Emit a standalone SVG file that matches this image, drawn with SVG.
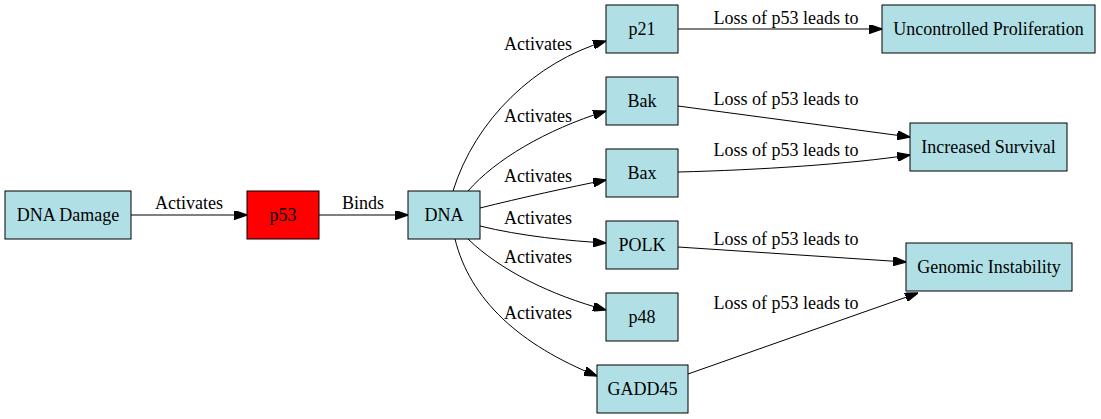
<svg xmlns="http://www.w3.org/2000/svg" width="1101" height="419" viewBox="0 0 1101 419">
<style>
.node rect{fill:#b0e0e6;stroke:#000;stroke-width:1}
.node.red rect{fill:#ff0000}
text{font-family:"Liberation Serif","DejaVu Serif",serif;font-size:18px;fill:#000}
.node text{text-anchor:middle}
.lbl{text-anchor:middle}
.edge{fill:none;stroke:#000;stroke-width:1;marker-end:url(#arr)}
</style>
<defs>
<marker id="arr" viewBox="0 0 10 7" refX="10" refY="3.5" markerWidth="13" markerHeight="9" markerUnits="userSpaceOnUse" orient="auto">
<path d="M0,0 L10,3.5 L0,7 z" fill="#000" stroke="#000" stroke-width="1"/>
</marker>
</defs>
<rect width="1101" height="419" fill="#fff"/>
<g id="connectors">
<path class="edge" d="M131,215 L247,215"/>
<path class="edge" d="M319,215 L408,215"/>
<path class="edge" d="M453,191 C475,120 535,62 606,41"/>
<path class="edge" d="M468,191 C495,160 545,130 606,111"/>
<path class="edge" d="M480,208 C520,198 570,187 606,180"/>
<path class="edge" d="M480,226 C520,236 570,241 606,243"/>
<path class="edge" d="M468,239 C500,270 550,295 606,310"/>
<path class="edge" d="M455,239 C470,300 520,345 597,376"/>
<path class="edge" d="M678,29 L882,29"/>
<path class="edge" d="M678,106 L910,137"/>
<path class="edge" d="M678,172 C760,170 850,164 910,155"/>
<path class="edge" d="M678,247 L906,262"/>
<path class="edge" d="M688,374 L918,293"/>
<text class="lbl" x="189" y="209">Activates</text>
<text class="lbl" x="363" y="209">Binds</text>
<text class="lbl" x="538" y="50">Activates</text>
<text class="lbl" x="538" y="122">Activates</text>
<text class="lbl" x="538" y="182">Activates</text>
<text class="lbl" x="538" y="224">Activates</text>
<text class="lbl" x="538" y="263">Activates</text>
<text class="lbl" x="538" y="319">Activates</text>
<text class="lbl" x="786" y="24">Loss of p53 leads to</text>
<text class="lbl" x="786" y="105">Loss of p53 leads to</text>
<text class="lbl" x="786" y="156">Loss of p53 leads to</text>
<text class="lbl" x="786" y="245">Loss of p53 leads to</text>
<text class="lbl" x="786" y="309">Loss of p53 leads to</text>
</g>
<g id="dna_damage" class="node"><rect x="5" y="191" width="126" height="48"/><text x="68" y="221">DNA Damage</text></g>
<g id="p53" class="node red"><rect x="247" y="191" width="72" height="48"/><text x="283" y="221">p53</text></g>
<g id="dna" class="node"><rect x="408" y="191" width="72" height="48"/><text x="444" y="221">DNA</text></g>
<g id="p21" class="node"><rect x="606" y="5" width="72" height="48"/><text x="642" y="35">p21</text></g>
<g id="bak" class="node"><rect x="606" y="77" width="72" height="48"/><text x="642" y="107">Bak</text></g>
<g id="bax" class="node"><rect x="606" y="149" width="72" height="48"/><text x="642" y="179">Bax</text></g>
<g id="polk" class="node"><rect x="606" y="221" width="72" height="48"/><text x="642" y="251">POLK</text></g>
<g id="p48" class="node"><rect x="606" y="293" width="72" height="48"/><text x="642" y="323">p48</text></g>
<g id="gadd45" class="node"><rect x="597" y="365" width="91" height="48"/><text x="642.5" y="395">GADD45</text></g>
<g id="uncontrolled_proliferation" class="node"><rect x="882" y="5" width="213" height="48"/><text x="988.5" y="35">Uncontrolled Proliferation</text></g>
<g id="increased_survival" class="node"><rect x="910" y="123" width="157" height="48"/><text x="988.5" y="153">Increased Survival</text></g>
<g id="genomic_instability" class="node"><rect x="906" y="243" width="166" height="48"/><text x="989" y="273">Genomic Instability</text></g>
</svg>
